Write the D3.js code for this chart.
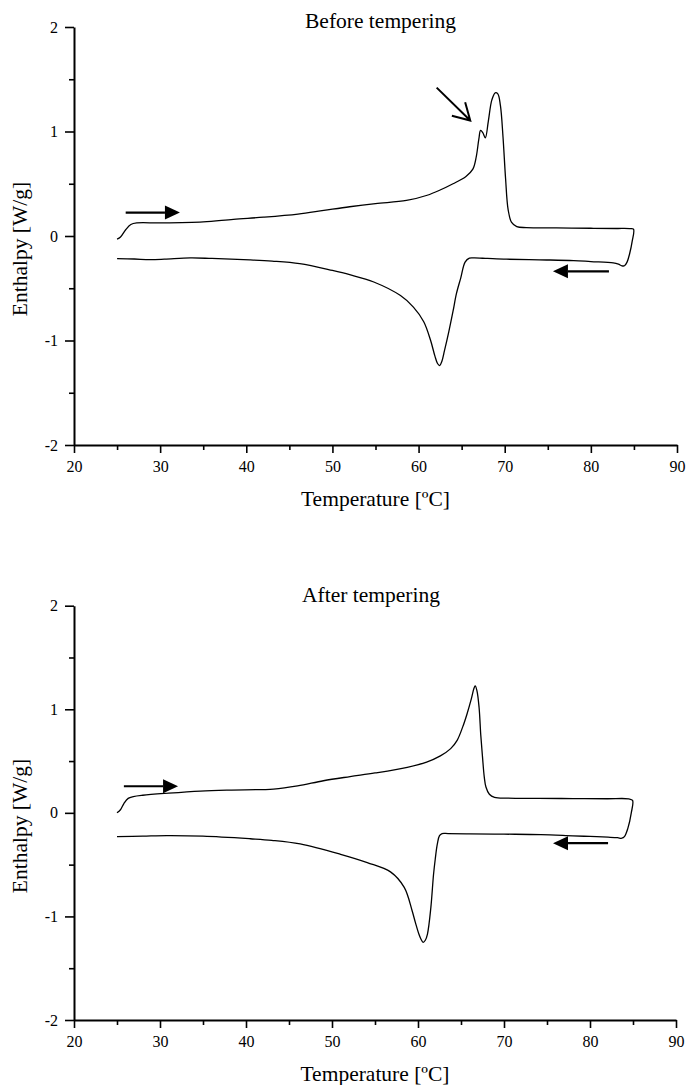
<!DOCTYPE html>
<html>
<head>
<meta charset="utf-8">
<script src="https://cdn.jsdelivr.net/npm/d3@7"></script>
<style>
  body { margin: 0; background: #fff; }
  text { font-family: "Liberation Serif", "Times New Roman", serif; fill: #000; }
</style>
</head>
<body>
<svg id="chart" width="686" height="1085"></svg>
<script>
// axis ticks
var xTicks = [20, 30, 40, 50, 60, 70, 80, 90];
var xMinor = [25, 35, 45, 55, 65, 75, 85];
var yTicks = [-2, -1, 0, 1, 2];
var yMinor = [-1.5, -0.5, 0.5, 1.5];

var titles = ['Before tempering', 'After tempering'];
var xLabel = 'Temperature [\u00baC]';
var yLabel = 'Enthalpy [W/g]';

// [temperature, enthalpy]
var beforeHeating = [
  [25.0, -0.03], [25.4, -0.01], [26.0, 0.06], [26.6, 0.11], [27.3, 0.125],
  [30, 0.125], [35, 0.135], [38.5, 0.16], [42, 0.18], [46, 0.21], [49, 0.245],
  [52, 0.28], [55, 0.31], [58.6, 0.34], [61, 0.39], [62.5, 0.44], [64, 0.5],
  [65.5, 0.57], [66.3, 0.64], [66.7, 0.76], [67.0, 0.93], [67.2, 1.01],
  [67.45, 0.99], [67.75, 0.94], [68.1, 1.1], [68.5, 1.3], [68.9, 1.37],
  [69.2, 1.36], [69.5, 1.25], [69.8, 0.95], [70.1, 0.55], [70.4, 0.25],
  [70.8, 0.13], [71.4, 0.09], [72.5, 0.08], [76, 0.077], [80, 0.074],
  [83, 0.072], [84.5, 0.071], [84.95, 0.065], [84.8, -0.05], [84.5, -0.17],
  [84.2, -0.25], [83.9, -0.285]
];
var beforeCooling = [
  [83.9, -0.285], [83.6, -0.285], [83.2, -0.27], [82.6, -0.258], [80, -0.245],
  [78.0, -0.235], [74, -0.228], [70.2, -0.222], [68, -0.215], [66.5, -0.21],
  [65.9, -0.212], [65.4, -0.25], [64.9, -0.4], [64.4, -0.55], [64.0, -0.72],
  [63.5, -0.92], [63.0, -1.1], [62.7, -1.2], [62.45, -1.24], [62.2, -1.22],
  [61.9, -1.15], [61.4, -1.0], [60.6, -0.82], [59.4, -0.68], [57.9, -0.57],
  [54.8, -0.44], [52, -0.37], [50, -0.33], [46.2, -0.265], [43, -0.24],
  [40.4, -0.228], [36, -0.215], [33.5, -0.21], [30.5, -0.222], [28.8, -0.226],
  [27, -0.22], [25.0, -0.216]
];
var afterHeating = [
  [25.0, 0.0], [25.4, 0.03], [25.8, 0.09], [26.3, 0.14], [26.9, 0.157], [28, 0.17],
  [31, 0.19], [34.7, 0.21], [38, 0.22], [43.2, 0.23], [46, 0.26], [49, 0.31],
  [52.1, 0.35], [55, 0.385], [58.75, 0.44], [61, 0.49], [62.6, 0.55],
  [63.8, 0.62], [64.55, 0.7], [65.2, 0.83], [65.7, 0.955], [66.2, 1.1],
  [66.5, 1.2], [66.65, 1.225], [66.85, 1.18], [67.1, 1.02], [67.3, 0.75],
  [67.5, 0.54], [67.7, 0.35], [67.9, 0.25], [68.3, 0.18], [68.9, 0.15],
  [70.4, 0.142], [74, 0.14], [78, 0.138], [82, 0.136], [84.5, 0.135],
  [84.95, 0.12], [84.8, 0.0], [84.4, -0.15], [84.0, -0.23], [83.7, -0.245]
];
var afterCooling = [
  [83.7, -0.245], [83.2, -0.24], [82.1, -0.235], [80, -0.228], [78, -0.222],
  [74.3, -0.21], [70, -0.206], [66, -0.203], [63.5, -0.2], [62.8, -0.2],
  [62.5, -0.22], [62.25, -0.3], [62.0, -0.45], [61.8, -0.6], [61.5, -0.91],
  [61.1, -1.17], [60.85, -1.23], [60.6, -1.25], [60.35, -1.22], [60.1, -1.17],
  [59.7, -1.06], [59.3, -0.94], [58.4, -0.72], [56.8, -0.57], [54.1, -0.48],
  [51.0, -0.4], [46.3, -0.3], [43, -0.265], [40.5, -0.25], [35, -0.225],
  [30.8, -0.22], [28, -0.225], [25.0, -0.23]
];

// direction arrows, in data units: [from, to]
var beforeArrows = [[[26.0, 0.224], [32.3, 0.224]], [[82.1, -0.338], [75.6, -0.338]]];
var afterArrows = [[[25.8, 0.257], [32.1, 0.257]], [[82.1, -0.293], [75.7, -0.293]]];
var beforePointer = [[62.1, 1.42], [66.0, 1.105]];

var svg = d3.select('#chart');
var serif = '"Liberation Serif", "Times New Roman", serif';

var panels = [
  { title: titles[0], heat: beforeHeating, cool: beforeCooling, arrows: beforeArrows, pointer: beforePointer,
    left: 74, right: 677, top: 27, bottom: 445, titleX: 305, titleY: 28, yLabelY: 249 },
  { title: titles[1], heat: afterHeating, cool: afterCooling, arrows: afterArrows, pointer: null,
    left: 74, right: 676, top: 605.7, bottom: 1020, titleX: 302, titleY: 602, yLabelY: 826 }
];

panels.forEach(function(p) { drawPanel(p); });

function drawPanel(p) {
  var x = d3.scaleLinear().domain([20, 90]).range([p.left, p.right]);
  var y = d3.scaleLinear().domain([-2, 2]).range([p.bottom, p.top]);
  var g = svg.append('g');
  var plain = function(d) { return String(d); };

  // minor ticks first, no labels
  g.append('g')
    .attr('transform', 'translate(0,' + p.bottom + ')')
    .call(d3.axisBottom(x).tickValues(xMinor).tickSize(5).tickFormat(''))
    .call(function(a) { a.select('.domain').remove(); });
  g.append('g')
    .attr('transform', 'translate(' + p.left + ',0)')
    .call(d3.axisLeft(y).tickValues(yMinor).tickSize(5).tickFormat(''))
    .call(function(a) { a.select('.domain').remove(); });

  g.append('g')
    .attr('transform', 'translate(0,' + p.bottom + ')')
    .call(d3.axisBottom(x).tickValues(xTicks).tickFormat(plain)
      .tickSize(8).tickSizeOuter(0).tickPadding(8));
  g.append('g')
    .attr('transform', 'translate(' + p.left + ',0)')
    .call(d3.axisLeft(y).tickValues(yTicks).tickFormat(plain)
      .tickSize(9).tickSizeOuter(0).tickPadding(7));

  g.selectAll('g').attr('font-family', serif).attr('font-size', 16);
  g.selectAll('.domain').attr('stroke-width', 2);
  g.selectAll('.tick line').attr('stroke-width', 1.6);

  // titles
  g.append('text')
    .attr('x', p.titleX).attr('y', p.titleY)
    .attr('font-size', 21.5)
    .text(p.title);
  g.append('text')
    .attr('x', (p.left + p.right) / 2).attr('y', p.bottom + 61)
    .attr('text-anchor', 'middle')
    .attr('font-size', 21.5)
    .text(xLabel);
  g.append('text')
    .attr('transform', 'translate(27,' + p.yLabelY + ') rotate(-90)')
    .attr('text-anchor', 'middle')
    .attr('font-size', 21.5)
    .text(yLabel);

  // the DSC loop
  var line = d3.line()
    .x(function(d) { return x(d[0]); })
    .y(function(d) { return y(d[1]); })
    .curve(d3.curveCatmullRom.alpha(0.5));

  g.append('path')
    .datum(p.heat.concat(p.cool.slice(1)))
    .attr('d', line)
    .attr('fill', 'none')
    .attr('stroke', '#000')
    .attr('stroke-width', 1.3);

  // direction arrows with filled heads
  p.arrows.forEach(function(a) {
    var x0 = x(a[0][0]), y0 = y(a[0][1]), x1 = x(a[1][0]), y1 = y(a[1][1]);
    var dir = x1 > x0 ? 1 : -1;
    var hl = 15, hw = 7;
    g.append('line')
      .attr('x1', x0).attr('y1', y0)
      .attr('x2', x1 - dir * hl).attr('y2', y1)
      .attr('stroke', '#000').attr('stroke-width', 2.2);
    g.append('path')
      .attr('d', 'M' + x1 + ',' + y1 + 'L' + (x1 - dir * hl) + ',' + (y1 - hw) +
                 'L' + (x1 - dir * hl) + ',' + (y1 + hw) + 'Z')
      .attr('fill', '#000');
  });

  // open-headed pointer to the shoulder
  if (p.pointer) {
    var px0 = x(p.pointer[0][0]), py0 = y(p.pointer[0][1]);
    var px1 = x(p.pointer[1][0]), py1 = y(p.pointer[1][1]);
    var ang = Math.atan2(py0 - py1, px0 - px1);
    var len = 19, spread = Math.PI / 6;
    var d = 'M' + px0 + ',' + py0 + 'L' + px1 + ',' + py1 +
      'M' + (px1 + len * Math.cos(ang - spread)) + ',' + (py1 + len * Math.sin(ang - spread)) +
      'L' + px1 + ',' + py1 +
      'L' + (px1 + len * Math.cos(ang + spread)) + ',' + (py1 + len * Math.sin(ang + spread));
    g.append('path')
      .attr('d', d)
      .attr('fill', 'none')
      .attr('stroke', '#000')
      .attr('stroke-width', 2);
  }
}
</script>
</body>
</html>
